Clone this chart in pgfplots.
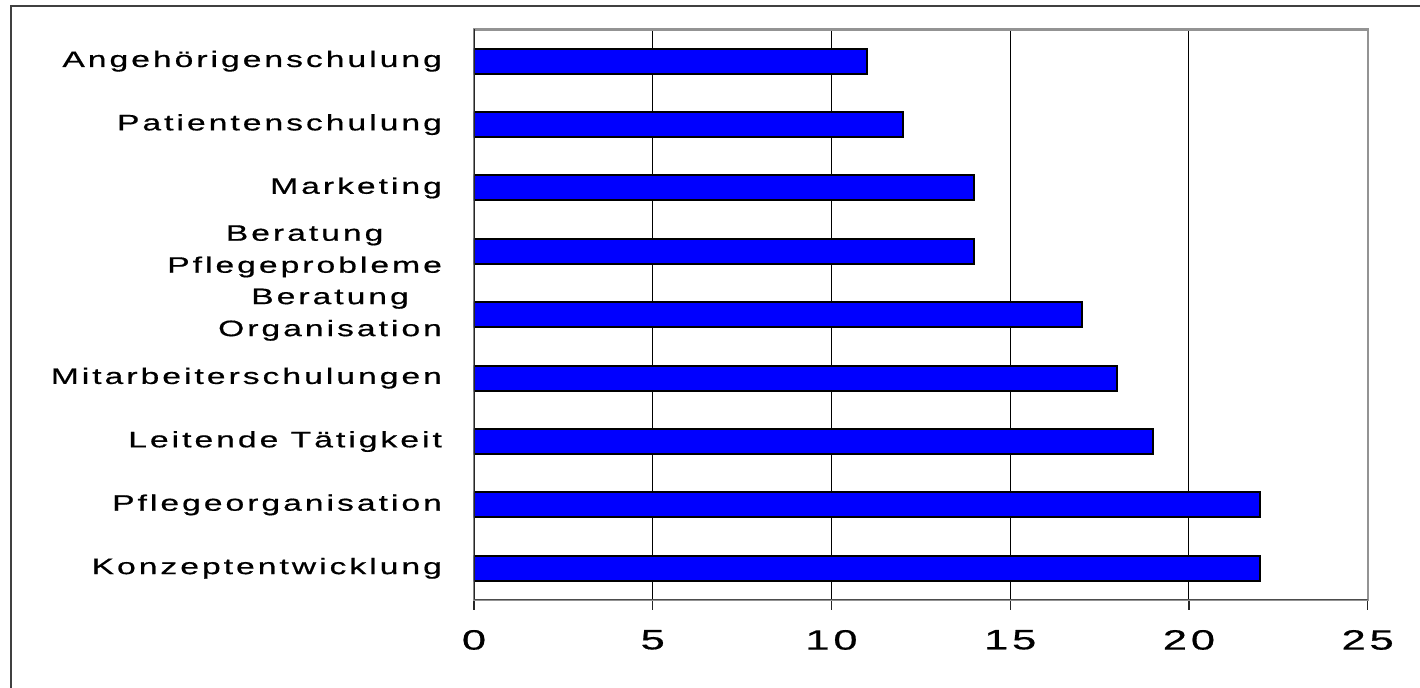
\documentclass[border=0pt]{standalone}
\usepackage{fontspec}
\setmainfont{Liberation Sans}[LetterSpace=9, FakeBold=0.5]
\usepackage{graphicx}
\usepackage{pgfplots}
\pgfplotsset{compat=1.18}
% wide-set label text
\newcommand\W[1]{\scalebox{1.5}[1]{#1}}

\begin{document}
\begin{tikzpicture}
\begin{axis}[
  at={(0pt,0pt)}, anchor=south west,
  scale only axis,
  width=446.85pt, height=285.25pt,
  xbar,
  xmin=0, xmax=25,
  ymin=-0.5, ymax=8.5,
  xtick={0,5,10,15,20,25},
  ytick={0,1,2,3,4,5,6,7,8},
  yticklabels={\W{Konzeptentwicklung}, \W{Pflegeorganisation}, \W{Leitende Tätigkeit},
    \W{Mitarbeiterschulungen}, {\W{Beratung}\\\W{Organisation}},
    {\W{Beratung}\\\W{Pflegeprobleme}},
    \W{Marketing}, \W{Patientenschulung}, \W{Angehörigenschulung}},
  xtick pos=left, ytick pos=left,
  xmajorgrids,
  major grid style={draw=black, line width=0.5pt},
  axis line style={draw=gray!85, line width=1.1pt},
  xtick style={draw=black!85, line width=0.6pt},
  xtick align=outside,
  major tick length=5pt,
  ytick style={draw=none},
  extra y ticks={-0.5,0.5,1.5,2.5,3.5,4.5,5.5,6.5,7.5,8.5},
  extra y tick labels={},
  extra y tick style={
    tick align=outside, major tick length=5.5pt,
    tick style={draw=black!85, line width=0.6pt}},
  /pgf/number format/assume math mode=true,
  xticklabel={\scalebox{1.55}[1]{\pgfmathprintnumber{\tick}}},
  xticklabel style={font=\fontsize{14}{16}\selectfont, yshift=-6.5pt},
  yticklabel style={font=\fontsize{11.2}{16}\selectfont, align=center, xshift=-7.5pt},
  bar width=12.5pt,
]
\addplot[fill=blue, draw=black, line width=1pt] coordinates {
  (22,0) (22,1) (19,2) (18,3) (17,4) (14,5) (14,6) (12,7) (11,8)
};
% black value and category axes over the grey plot-area border
\draw[black!85, line width=0.8pt] (rel axis cs:0,0) -- (rel axis cs:0,1);
\draw[black!70, line width=0.8pt] (rel axis cs:0,0) -- (rel axis cs:1,0);
\end{axis}
\pgfresetboundingbox
\useasboundingbox (-237pt,-44pt) rectangle (473pt,300pt);
\draw[black!75, line width=1pt] (-231.5pt,-44pt) -- (-231.5pt,297pt) -- (473pt,297pt);
\end{tikzpicture}
\end{document}
